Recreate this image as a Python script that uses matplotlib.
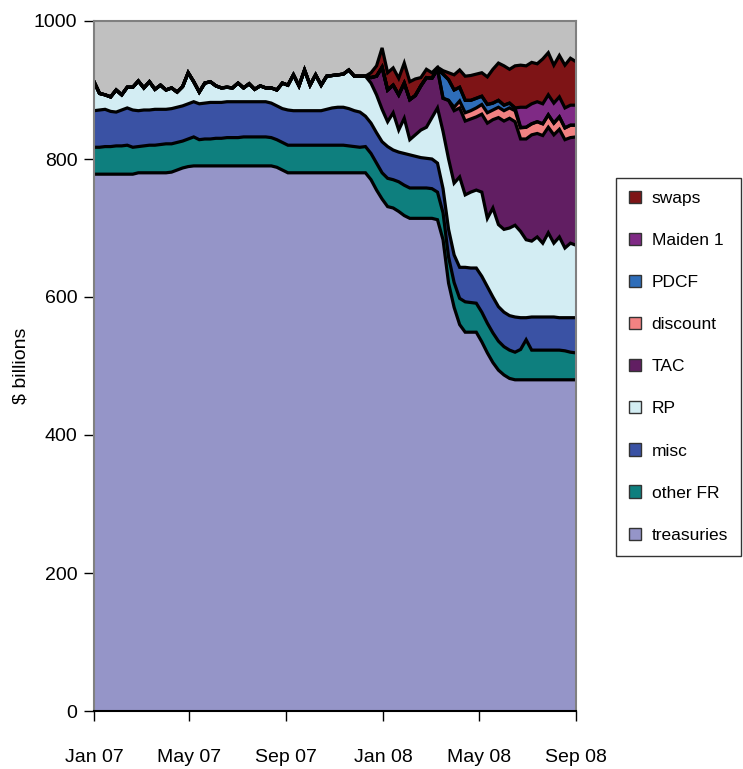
import numpy as np
import matplotlib
matplotlib.use("Agg")
import matplotlib.pyplot as plt
from matplotlib.patches import Patch

plt.rcParams["font.family"] = ["Liberation Sans", "DejaVu Sans"]

# weekly Fed balance sheet components, $ billions (Jan 2007 - Sep 2008)
treasuries = [778] * 8 + [780] * 6 + [781, 784, 787, 789] + [790] * 15 + [788, 784] + [780] * 15 + [
    770, 755, 742, 731, 729, 724, 718, 714, 714, 714, 714, 714, 712, 683, 620, 585, 560,
    549, 549, 549, 535, 519, 505, 494, 487, 482] + [480] * 12

other_fr = [39, 39, 40, 40, 41, 41, 42, 39, 38, 39, 40, 40, 41, 42, 41, 40, 39, 40, 42, 38,
            39, 39, 40, 40, 41, 41, 41, 42, 42, 42, 42, 42, 41, 40, 40] + [40] * 11 + [
            39, 38, 37, 38, 38, 39, 38, 41, 41, 43, 44, 44, 44, 44, 44, 43, 40, 39, 38, 36,
            38, 44, 43, 42, 43, 43, 43, 42, 41, 41, 40, 44, 58, 43, 43, 43, 43, 43, 43, 42,
            40, 39]

misc = [53, 54, 54, 51, 49, 52, 54, 54, 52, 52, 51, 52, 51, 50, 51, 51, 51, 51, 51, 52,
        52, 53, 52, 52, 52, 52, 52, 51, 51, 51, 51, 51, 50, 49, 49, 51, 50, 50, 50, 50,
        50, 50, 52, 54, 55, 55, 54, 52, 51, 44, 44, 44, 45, 46, 43, 43, 46, 48, 46, 44,
        43, 43, 42, 35, 40, 40, 45, 50, 50, 51, 52, 53, 52, 50, 50, 50, 51, 46, 32, 48,
        48, 48, 48, 48, 47, 48, 50, 51]

rp = [42, 24, 21, 21, 32, 22, 30, 33, 43, 32, 41, 29, 35, 28, 30, 22, 28, 45, 29, 17,
      29, 30, 24, 21, 21, 20, 27, 20, 26, 18, 23, 20, 22, 23, 37, 36, 52, 36, 59, 37,
      52, 37, 48, 47, 47, 48, 56, 50, 52, 58, 58, 55, 47, 36, 54, 32, 51, 22, 31, 40,
      45, 60, 80, 83, 102, 104, 131, 105, 110, 113, 122, 99, 129, 119, 120, 127, 133, 125,
      113, 110, 116, 107, 122, 107, 117, 101, 108, 105]

tac = [0] * 50 + [8, 27, 61, 46, 40, 51, 51, 58, 57, 64, 72, 57, 56, 48, 85, 105, 100, 107,
                  106, 106, 113, 138, 128, 155, 157, 159, 150, 134, 146, 154, 150, 156, 153,
                  157, 156, 157, 153, 157]

discount = [0] * 65 + [5, 10, 12, 12, 13, 14, 15, 14, 15, 15, 15, 16, 16, 17, 16, 17, 17,
                       18, 17, 18, 17, 18, 17]

pdcf = [0] * 63 + [35, 30, 25, 20, 18, 15, 14, 12, 12, 10, 10, 8, 7, 4, 1] + [0] * 10

maiden = [0] * 77 + [29] * 11

swaps = [0] * 50 + [7, 15, 28, 25, 25, 24, 29, 26, 24, 12, 12, 8, 3, 5, 10, 22, 25, 35, 36,
                    35, 34, 40, 49, 54, 57, 49, 61, 61, 60, 60, 55, 65, 61, 55, 60, 62, 68, 63]

labels = ["treasuries", "other FR", "misc", "RP", "TAC", "discount", "PDCF", "Maiden 1", "swaps"]
colors = ["#9595C8", "#0E7F7E", "#3A52A4", "#D3EDF3", "#611E62", "#F28282", "#2E6DB9",
          "#7F2A85", "#7E1416"]
tick_labels = ["Jan 07", "May 07", "Sep 07", "Jan 08", "May 08", "Sep 08"]
tick_days = [0, 120, 243, 365, 486, 609]  # days since 1 Jan 2007

series = [treasuries, other_fr, misc, rp, tac, discount, pdcf, maiden, swaps]
x = np.arange(len(treasuries))
tops = np.cumsum(np.array(series, dtype=float), axis=0)

fig = plt.figure(figsize=(7.43, 7.69), dpi=100)
ax = fig.add_axes([94 / 743, 1 - 711 / 769, (576 - 94) / 743, (711 - 21) / 769])
ax.set_facecolor("#C0C0C0")

lower = np.zeros(len(x))
for top, c in zip(tops, colors):
    ax.fill_between(x, lower, top, color=c, linewidth=0)
    lower = top
for top in tops:
    ax.plot(x, top, color="black", lw=2.3, solid_joinstyle="miter")

ax.set_xlim(0, 87)
ax.set_ylim(0, 1000)
ax.set_yticks(range(0, 1001, 200))
ax.set_xticks([d / 7 for d in tick_days])
ax.set_xticklabels(tick_labels)
ax.tick_params(axis="y", length=7, width=1, pad=5, labelsize=14)
ax.tick_params(axis="x", length=7, width=1, pad=20, labelsize=14)
ax.set_ylabel("$ billions", fontsize=14, labelpad=3)

for s in ["left", "top", "right"]:
    ax.spines[s].set_color("#808080")
    ax.spines[s].set_linewidth(1.5)
ax.spines["bottom"].set_color("black")
ax.spines["bottom"].set_linewidth(1.5)

handles = [Patch(facecolor=c, edgecolor="#333333", linewidth=1) for c in colors][::-1]
leg = fig.legend(handles, labels[::-1], loc="upper left",
                 bbox_to_anchor=(616 / 743, 1 - 178 / 769), fontsize=12.5,
                 frameon=True, fancybox=False, edgecolor="black", borderpad=0.75,
                 labelspacing=1.55, handlelength=0.7, handleheight=0.7, handletextpad=0.6,
                 borderaxespad=0)
leg.get_frame().set_linewidth(1)

fig.savefig("out.png", dpi=100)
